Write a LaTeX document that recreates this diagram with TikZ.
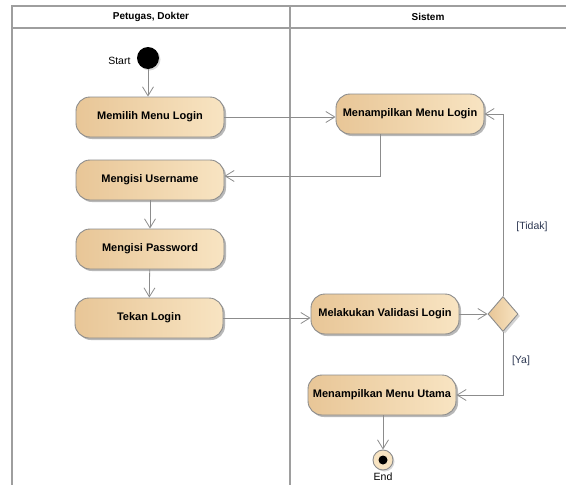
\documentclass[tikz,border=0pt]{standalone}
\usepackage{fontspec}
\setmainfont{Liberation Sans}
\usetikzlibrary{arrows.meta,shapes.geometric,shadows}

\definecolor{aktKiri}{HTML}{E8C697}
\definecolor{aktKanan}{HTML}{F8E4C2}
\definecolor{garis}{HTML}{8C8C8C}
\definecolor{lajur}{HTML}{9E9E9E}
\definecolor{teksLabel}{HTML}{2A3550}

\tikzset{
  aktivitas/.style={draw=garis, line width=0.9pt, rounded corners=14pt,
    left color=aktKiri, right color=aktKanan,
    minimum width=148pt, minimum height=40pt, inner sep=0pt,
    font=\bfseries\fontsize{11}{13}\selectfont,
    drop shadow={shadow xshift=2pt, shadow yshift=-2pt, fill=gray!70, opacity=0.8}},
  panah/.style={draw=garis, line width=0.8pt, -{Straight Barb[length=9pt,width=11pt]}},
  label/.style={font=\fontsize{10.5}{12}\selectfont, text=teksLabel}
}

\begin{document}
\begin{tikzpicture}[x=1pt,y=-1pt]
  \useasboundingbox (0,0) rectangle (566,485);

  % Swimlane
  \draw[lajur, line width=1.3pt] (12,485) -- (12,6) -- (566,6);
  \draw[lajur, line width=1.3pt] (12,28) -- (566,28);
  \draw[lajur, line width=1.3pt] (290,6) -- (290,485);
  \node[font=\bfseries\fontsize{10}{12}\selectfont] (lajurPetugas) at (151,17) {Petugas, Dokter};
  \node[font=\bfseries\fontsize{10}{12}\selectfont] (lajurSistem) at (428,17) {Sistem};

  % Start
  \node[circle, fill=black, minimum size=22pt, inner sep=0pt,
    drop shadow={shadow xshift=1.5pt, shadow yshift=-1.5pt, fill=gray!60}] (mulai) at (148,58) {};
  \node[label, text=black, anchor=east] (mulaiTeks) at (134,61) {Start};

  % Aktivitas Petugas
  \node[aktivitas] (pilihMenu) at (150,117) {Memilih Menu Login};
  \node[aktivitas] (isiUser) at (150,180) {Mengisi Username};
  \node[aktivitas] (isiPass) at (150,249) {Mengisi Password};
  \node[aktivitas] (tekanLogin) at (149,318) {Tekan Login};

  % Aktivitas Sistem
  \node[aktivitas] (tampilLogin) at (410,114) {Menampilkan Menu Login};
  \node[aktivitas] (validasi) at (385,314) {Melakukan Validasi Login};
  \node[aktivitas] (tampilUtama) at (382,395) {Menampilkan Menu Utama};

  % Keputusan
  \node[diamond, draw=garis, line width=0.9pt, left color=aktKiri, right color=aktKanan,
    minimum width=30pt, minimum height=35pt, inner sep=0pt,
    drop shadow={shadow xshift=2pt, shadow yshift=-2pt, fill=gray!70}] (cek) at (503,314) {};

  % End
  \node[circle, draw=garis, line width=0.9pt, fill=aktKanan, minimum size=20pt, inner sep=0pt,
    drop shadow={shadow xshift=1.5pt, shadow yshift=-1.5pt, fill=gray!60}] (akhir) at (383,460) {};
  \node[circle, fill=black, minimum size=9pt, inner sep=0pt] (akhirTitik) at (akhir) {};
  \node[label, text=black] (akhirTeks) at (383,477) {End};

  % Alur
  \draw[panah] (mulai) -- (mulai |- pilihMenu.north);
  \draw[panah] (pilihMenu.east) -- (pilihMenu.east -| tampilLogin.west);
  \draw[panah] ([xshift=-30pt]tampilLogin.south) |- ([yshift=4pt]isiUser.east);
  \draw[panah] (isiUser) -- (isiPass);
  \draw[panah] (isiPass) -- (tekanLogin);
  \draw[panah] (tekanLogin.east) -- (tekanLogin.east -| validasi.west);
  \draw[panah] (validasi.east) -- (cek.west);
  \draw[panah] (cek.north) |- (tampilLogin.east);
  \draw[panah] (cek.south) |- (tampilUtama.east);
  \draw[panah] (tampilUtama.south -| akhir) -- (akhir.north);

  % Guard
  \node[label] (tidak) at (532,227) {[Tidak]};
  \node[label] (ya) at (521,361) {[Ya]};
\end{tikzpicture}
\end{document}
